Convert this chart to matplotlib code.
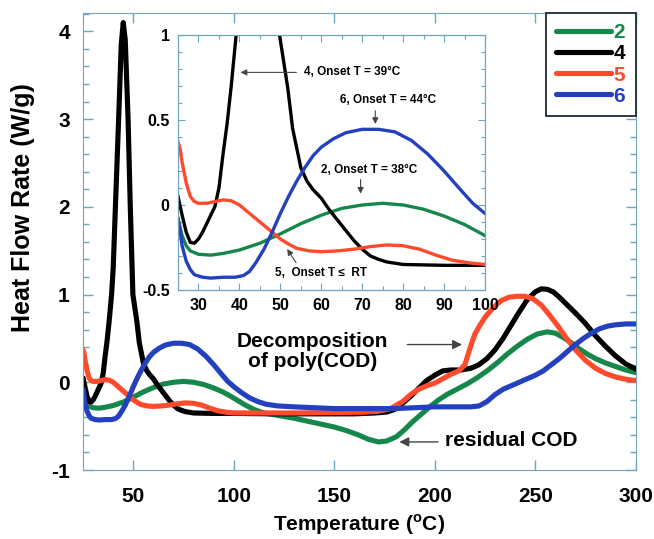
import matplotlib
matplotlib.use('Agg')
import matplotlib.pyplot as plt
from matplotlib.ticker import MultipleLocator

plt.rcParams['font.family'] = ['Liberation Sans', 'DejaVu Sans']
plt.rcParams['font.weight'] = 'bold'
plt.rcParams['axes.unicode_minus'] = False

# heat flow curves (W/g)
t2 = [25, 26, 27, 28, 30, 33, 36, 40, 45, 50, 55, 60, 65, 70, 75, 80, 85, 90, 95, 100,
      105, 110, 115, 120, 130, 140, 150, 156, 162, 167, 172, 176, 181, 185, 189, 194, 198,
      202, 206, 211, 216, 221, 226, 231, 236, 241, 246, 251, 256, 260, 264, 268, 272, 276,
      280, 285, 290, 295, 300]
hf2 = [-0.08, -0.18, -0.24, -0.27, -0.29, -0.295, -0.285, -0.265, -0.225, -0.17, -0.11,
       -0.06, -0.02, 0.0, 0.01, 0.0, -0.025, -0.065, -0.115, -0.18, -0.25, -0.31, -0.35,
       -0.37, -0.41, -0.46, -0.51, -0.55, -0.6, -0.65, -0.68, -0.67, -0.62, -0.54, -0.45,
       -0.35, -0.27, -0.2, -0.14, -0.08, -0.02, 0.05, 0.13, 0.22, 0.32, 0.41, 0.49, 0.55,
       0.575, 0.56, 0.51, 0.45, 0.38, 0.32, 0.27, 0.22, 0.18, 0.14, 0.11]

t4 = [25, 26, 27, 28, 29, 30, 31, 32, 33, 34, 35, 36, 37, 38, 39.2, 40, 41.1, 42.7, 44,
      45, 46, 47.4, 48.5, 49.8, 51.8, 53, 55, 56.5, 58, 60, 62, 64, 66, 68, 70, 72, 74, 76,
      80, 90, 100, 120, 140, 160, 170, 176, 180, 184, 188, 192, 196, 200, 204, 208, 213,
      218, 222, 226, 230, 234, 238, 242, 246, 250, 253, 256, 259, 262, 266, 270, 275, 280,
      285, 290, 295, 300]
hf4 = [0.05, -0.06, -0.16, -0.22, -0.225, -0.2, -0.16, -0.11, -0.06, -0.01, 0.1, 0.3,
       0.48, 0.7, 1.0, 1.3, 2.0, 3.0, 3.85, 4.1, 3.9, 3.0, 2.0, 1.0, 0.69, 0.45, 0.22, 0.14,
       0.09, 0.04, -0.03, -0.09, -0.15, -0.21, -0.26, -0.3, -0.32, -0.335, -0.35, -0.355,
       -0.355, -0.36, -0.36, -0.36, -0.35, -0.34, -0.31, -0.24, -0.16, -0.07, 0.02, 0.08,
       0.13, 0.14, 0.14, 0.16, 0.2, 0.27, 0.37, 0.5, 0.65, 0.8, 0.94, 1.03, 1.065, 1.06,
       1.03, 0.97, 0.88, 0.79, 0.67, 0.53, 0.41, 0.3, 0.21, 0.15]

t5 = [25, 25.5, 26, 27, 28, 29, 30, 32, 34, 36, 38, 40, 42, 44, 46, 48, 50, 52, 54, 57,
      60, 64, 68, 72, 76, 80, 84, 88, 92, 96, 100, 110, 130, 150, 165, 172, 178, 184, 188,
      192, 196, 200, 204, 208, 212, 215, 218, 220, 222.5, 225, 229, 233, 237, 241, 245,
      249, 253, 257, 261, 265, 270, 275, 280, 285, 290, 295, 300]
hf5 = [0.37, 0.33, 0.25, 0.13, 0.05, 0.02, 0.01, 0.01, 0.02, 0.03, 0.025, 0.0, -0.04,
       -0.08, -0.12, -0.16, -0.2, -0.23, -0.255, -0.27, -0.275, -0.27, -0.26, -0.245,
       -0.235, -0.24, -0.26, -0.295, -0.325, -0.34, -0.35, -0.35, -0.35, -0.345, -0.34,
       -0.33, -0.3, -0.22, -0.14, -0.08, -0.04, -0.01, 0.04, 0.09, 0.13, 0.2, 0.42, 0.55,
       0.65, 0.74, 0.85, 0.93, 0.97, 0.98, 0.98, 0.95, 0.88, 0.77, 0.65, 0.52, 0.37, 0.25,
       0.16, 0.1, 0.06, 0.035, 0.02]

t6 = [25, 25.5, 26, 27, 28, 29, 31, 33, 36, 39, 41, 42.5, 44, 46, 48, 50, 52, 54, 56, 58,
      60, 63, 66, 70, 74, 78, 82, 86, 90, 94, 97, 100, 104, 108, 112, 116, 122, 130, 140,
      150, 160, 170, 180, 190, 200, 210, 218, 222, 226, 230, 234, 238, 242, 246, 250, 254,
      258, 262, 266, 270, 274, 278, 282, 286, 290, 295, 300]
hf6 = [-0.08, -0.15, -0.24, -0.33, -0.38, -0.41, -0.425, -0.43, -0.425, -0.425, -0.415,
       -0.39, -0.34, -0.26, -0.16, -0.05, 0.05, 0.14, 0.22, 0.29, 0.34, 0.39, 0.425, 0.445,
       0.445, 0.43, 0.38, 0.3, 0.2, 0.09, 0.01, -0.05, -0.12, -0.18, -0.22, -0.25, -0.27,
       -0.28, -0.29, -0.3, -0.3, -0.3, -0.3, -0.29, -0.28, -0.28, -0.28, -0.27, -0.22,
       -0.14, -0.08, -0.04, 0.0, 0.04, 0.08, 0.13, 0.2, 0.27, 0.35, 0.43, 0.5, 0.56, 0.61,
       0.64, 0.655, 0.665, 0.665]

samples = ['2', '4', '5', '6']
colors = ['#16874a', '#000000', '#ff4a2c', '#2340bf']
spine_c = '#6fa6bd'

series = [(t2, hf2), (t4, hf4), (t5, hf5), (t6, hf6)]

fig = plt.figure(figsize=(6.54, 5.39), dpi=100)
ax = fig.add_axes([0.127, 0.128, 0.845, 0.848])

for (t, hf), lab, c in zip(series, samples, colors):
    ax.plot(t, hf, color=c, lw=3.7, label=lab, solid_capstyle='round')

ax.set_xlim(25, 300)
ax.set_ylim(-1, 4.21)
ax.xaxis.set_major_locator(MultipleLocator(50))
ax.yaxis.set_major_locator(MultipleLocator(1))
ax.yaxis.set_minor_locator(MultipleLocator(0.2))
ax.tick_params(which='both', direction='in', top=True, right=True, color=spine_c, width=1)
ax.tick_params(which='major', length=7, labelsize=15)
ax.tick_params(which='minor', length=4)
ax.tick_params(axis='y', pad=9.5)
ax.tick_params(axis='x', pad=12.5)
for s in ax.spines.values():
    s.set_color(spine_c)
ax.set_xlabel('Temperature ($^\\mathregular{o}$C)', fontsize=15, fontweight='bold')
ax.set_ylabel('Heat Flow Rate (W/g)', fontsize=18, fontweight='bold')
ax.xaxis.set_label_coords(0.5, -0.093)
ax.yaxis.set_label_coords(-0.087, 0.575)

# main annotations
ax.text(139, 0.35, 'Decomposition\nof poly(COD)', ha='center', va='center',
        fontsize=15, fontweight='bold', linespacing=1.1)
ax.annotate('', xy=(215, 0.43), xytext=(185, 0.43),
            arrowprops=dict(arrowstyle='-|>', color='#444444', lw=1, mutation_scale=14))
ax.text(205, -0.66, 'residual COD', ha='left', va='center', fontsize=15, fontweight='bold')
ax.annotate('', xy=(181, -0.68), xytext=(203, -0.68),
            arrowprops=dict(arrowstyle='-|>', color='#444444', lw=1, mutation_scale=14))

leg = ax.legend(loc='upper right', borderaxespad=0, fontsize=15, handlelength=2.6,
                handletextpad=0.15, labelspacing=0.1, borderpad=0.5, fancybox=False,
                edgecolor='#1c2a30', framealpha=1)
leg.get_frame().set_linewidth(1.3)
for txt, c in zip(leg.get_texts(), colors):
    txt.set_color(c)
    txt.set_fontweight('bold')

# inset
ins = fig.add_axes([0.2722, 0.462, 0.4694, 0.4731])
ins.set_facecolor('white')
for (t, hf), c in zip(series, colors):
    ins.plot(t, hf, color=c, lw=2.4)
ins.set_xlim(25, 100)
ins.set_ylim(-0.5, 1)
ins.xaxis.set_major_locator(MultipleLocator(10))
ins.xaxis.set_minor_locator(MultipleLocator(5))
ins.yaxis.set_minor_locator(MultipleLocator(0.1))
ins.set_yticks([-0.5, 0, 0.5, 1])
ins.set_yticklabels(['-0.5', '0', '0.5', '1'])
ins.tick_params(which='both', direction='in', top=True, right=True, color=spine_c, width=0.8)
ins.tick_params(which='major', length=5, labelsize=11.5, pad=6)
ins.tick_params(which='minor', length=3)
for s in ins.spines.values():
    s.set_color(spine_c)
    s.set_linewidth(0.9)

afs = 8.5
ins.text(55.8, 0.78, '4, Onset T = 39°C', ha='left', va='center', fontsize=afs, fontweight='bold')
ins.annotate('', xy=(39.6, 0.78), xytext=(54.6, 0.78),
             arrowprops=dict(arrowstyle='-|>', color='#444444', lw=0.8, mutation_scale=9))
ins.text(76.2, 0.618, '6, Onset T = 44°C', ha='center', va='center', fontsize=afs, fontweight='bold')
ins.annotate('', xy=(73.2, 0.46), xytext=(73.2, 0.57),
             arrowprops=dict(arrowstyle='-|>', color='#444444', lw=0.8, mutation_scale=9))
ins.text(71.6, 0.206, '2, Onset T = 38°C', ha='center', va='center', fontsize=afs, fontweight='bold')
ins.annotate('', xy=(69.6, 0.05), xytext=(69.6, 0.166),
             arrowprops=dict(arrowstyle='-|>', color='#444444', lw=0.8, mutation_scale=9))
ins.text(59.9, -0.402, '5,  Onset T \u2264  RT', ha='center', va='center', fontsize=afs, fontweight='bold')
ins.annotate('', xy=(51.3, -0.245), xytext=(54.2, -0.353),
             arrowprops=dict(arrowstyle='-|>', color='#444444', lw=0.8, mutation_scale=9))

fig.savefig('out.png', dpi=100)
plt.close()
